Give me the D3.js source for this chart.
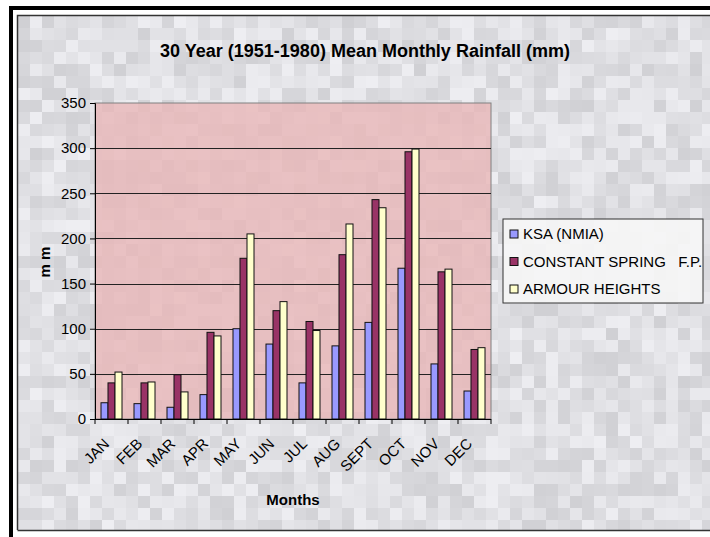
<!DOCTYPE html>
<html>
<head>
<meta charset="utf-8">
<script src="https://cdn.jsdelivr.net/npm/d3@7"></script>
<style>
  body { margin: 0; background: #fff; }
  svg { display: block; font-family: "Liberation Sans", Arial, sans-serif; }
</style>
</head>
<body>
<div id="chart"></div>
<script>
// chart values
var months = ['JAN', 'FEB', 'MAR', 'APR', 'MAY', 'JUN', 'JUL', 'AUG', 'SEPT', 'OCT', 'NOV', 'DEC'];
var seriesNames = ['KSA (NMIA)', 'CONSTANT SPRING   F.P.', 'ARMOUR HEIGHTS'];
var ksa = [18, 17, 13, 27, 100, 83, 40, 81, 107, 167, 61, 31];
var constantSpring = [40, 40, 49, 96, 178, 120, 108, 182, 243, 296, 163, 77];
var armourHeights = [52, 41, 30, 92, 205, 130, 98, 216, 234, 299, 166, 79];
var yTicks = [0, 50, 100, 150, 200, 250, 300, 350];
var colors = ['#9999ff', '#993366', '#ffffcc'];

var width = 710, height = 537;
var plot = { left: 95, right: 491, top: 103, bottom: 419 };

var svg = d3.select('#chart').append('svg')
    .attr('width', width)
    .attr('height', height);

// grey mosaic backdrop (deterministic shades)
function shade(i, j) {
    var h = Math.sin(i * 12.9898 + j * 78.233) * 43758.5453;
    return h - Math.floor(h);
}
var cell = 12;
var bg = svg.append('g');
for (var j = 0; 16 + j * cell < 531; j++) {
    for (var i = 0; 18 + i * cell < width; i++) {
        var v = Math.round(208 + shade(i, j) * 30);
        bg.append('rect')
            .attr('x', 18 + i * cell)
            .attr('y', 16 + j * cell)
            .attr('width', cell)
            .attr('height', Math.min(cell, 530 - (16 + j * cell)))
            .attr('fill', d3.rgb(v, v, v + 4));
    }
}

// frames
svg.append('path').attr('d', 'M11,537V8H710').attr('fill', 'none').attr('stroke', '#000').attr('stroke-width', 4);
svg.append('path').attr('d', 'M17.5,530V15.5H710 M17.5,530.5H710').attr('fill', 'none').attr('stroke', '#333').attr('stroke-width', 1.5);

var x0 = d3.scaleBand().domain(months).range([plot.left, plot.right]).padding(0);
var x1 = d3.scaleBand().domain(seriesNames).range([0, 21]);
var y = d3.scaleLinear().domain([0, 350]).range([plot.bottom, plot.top]);

// plot area
svg.append('rect')
    .attr('x', plot.left).attr('y', plot.top)
    .attr('width', plot.right - plot.left).attr('height', plot.bottom - plot.top)
    .attr('fill', '#e8b6b8').attr('fill-opacity', 0.8)
    .attr('stroke', '#808080');

// gridlines
svg.append('g').selectAll('line')
    .data(yTicks.slice(1, -1))
    .enter().append('line')
    .attr('x1', plot.left).attr('x2', plot.right)
    .attr('y1', function(d) { return Math.round(y(d)) + 0.5; })
    .attr('y2', function(d) { return Math.round(y(d)) + 0.5; })
    .attr('stroke', '#222');

// bars
var table = months.map(function(m, i) {
    return { month: m, values: [ksa[i], constantSpring[i], armourHeights[i]] };
});
var offset = (x0.bandwidth() - 21) / 2;
svg.append('g').selectAll('g')
    .data(table)
    .enter().append('g')
    .attr('transform', function(d) { return 'translate(' + (x0(d.month) + offset) + ',0)'; })
    .selectAll('rect')
    .data(function(d) { return d.values.map(function(v, k) { return { name: seriesNames[k], value: v, k: k }; }); })
    .enter().append('rect')
    .attr('x', function(d) { return x1(d.name); })
    .attr('y', function(d) { return y(d.value); })
    .attr('width', x1.bandwidth())
    .attr('height', function(d) { return plot.bottom - y(d.value); })
    .attr('fill', function(d) { return colors[d.k]; })
    .attr('stroke', '#111')
    .attr('stroke-width', 1);

// y axis
var yAxis = d3.axisLeft(y).tickValues(yTicks).tickSize(5).tickPadding(4);
var ya = svg.append('g')
    .attr('transform', 'translate(' + plot.left + ',0)')
    .call(yAxis);
ya.select('.domain').attr('stroke', '#000');
ya.selectAll('.tick line').attr('stroke', '#000');
ya.selectAll('text').attr('font-size', 15).attr('fill', '#000').attr('font-family', '"Liberation Sans", Arial, sans-serif');

// x axis
svg.append('line')
    .attr('x1', plot.left).attr('x2', plot.right)
    .attr('y1', plot.bottom + 0.5).attr('y2', plot.bottom + 0.5)
    .attr('stroke', '#000');
svg.append('g').selectAll('line')
    .data(months.concat(['end']))
    .enter().append('line')
    .attr('x1', function(d) { return d === 'end' ? plot.right : x0(d); })
    .attr('x2', function(d) { return d === 'end' ? plot.right : x0(d); })
    .attr('y1', plot.bottom).attr('y2', plot.bottom + 5)
    .attr('stroke', '#000');
svg.append('g').selectAll('text')
    .data(months)
    .enter().append('text')
    .attr('transform', function(d) {
        return 'translate(' + (x0(d) + x0.bandwidth() / 2 - 5) + ',' + (plot.bottom + 22) + ') rotate(-45)';
    })
    .attr('text-anchor', 'end')
    .attr('dy', '0.35em')
    .attr('font-size', 15)
    .text(function(d) { return d; });

// titles
svg.append('text')
    .attr('x', 365).attr('y', 57)
    .attr('text-anchor', 'middle')
    .attr('font-size', 18).attr('font-weight', 'bold')
    .text('30 Year (1951-1980) Mean Monthly Rainfall (mm)');
svg.append('text')
    .attr('x', 293).attr('y', 505)
    .attr('text-anchor', 'middle')
    .attr('font-size', 15).attr('font-weight', 'bold')
    .text('Months');
svg.append('text')
    .attr('transform', 'translate(50,262) rotate(-90)')
    .attr('text-anchor', 'middle')
    .attr('font-size', 15).attr('font-weight', 'bold')
    .text('m m');

// legend
var legend = svg.append('g').attr('transform', 'translate(503,219)');
legend.append('rect')
    .attr('width', 200).attr('height', 84)
    .attr('fill', '#f6f6f6').attr('fill-opacity', 0.9)
    .attr('stroke', '#333');
var items = legend.selectAll('g.item')
    .data(seriesNames)
    .enter().append('g')
    .attr('transform', function(d, i) { return 'translate(7,' + (15 + i * 27.5) + ')'; });
items.append('rect')
    .attr('x', 0).attr('y', -4)
    .attr('width', 8).attr('height', 8)
    .attr('fill', function(d, i) { return colors[i]; })
    .attr('stroke', '#111');
items.append('text')
    .attr('x', 13).attr('dy', '0.35em')
    .attr('font-size', 15)
    .style('white-space', 'pre')
    .text(function(d) { return d; });
</script>
</body>
</html>
